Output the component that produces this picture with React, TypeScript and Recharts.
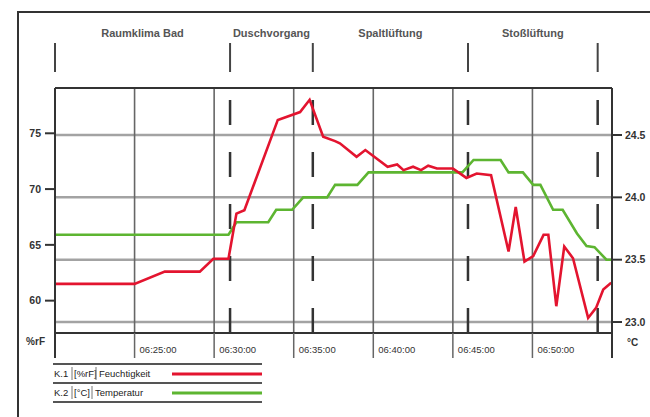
import React from "react";
import {
  LineChart,
  Line,
  XAxis,
  YAxis,
  ReferenceLine,
  ReferenceArea,
  Legend,
} from "recharts";

// minutes after 06:20:00
const humTime = [
  0, 5.0, 6.9, 9.1, 9.95, 10.9, 11.4, 11.9, 14.0, 15.4, 16.0, 16.85, 17.6, 17.9,
  18.95, 19.5, 20.9, 21.5, 21.9, 22.5, 23.0, 23.45, 24.0, 25.0, 25.85, 26.5, 27.4,
  28.5, 28.95, 29.5, 30.05, 30.7, 31.0, 31.5, 32.0, 32.55, 33.5, 34.0, 34.45, 34.95,
];
const humValues = [
  61.5, 61.5, 62.6, 62.6, 63.75, 63.75, 67.8, 68.1, 76.2, 76.9, 78.0, 74.7, 74.3,
  74.1, 72.9, 73.5, 72.0, 72.2, 71.7, 72.0, 71.7, 72.1, 71.85, 71.85, 71.0, 71.4,
  71.25, 64.4, 68.4, 63.5, 64.0, 65.9, 65.9, 59.5, 64.85, 63.8, 58.45, 59.35, 61.0,
  61.6,
];
const tempTime = [
  0, 10.9, 11.4, 13.4, 13.9, 14.9, 15.6, 17.1, 17.6, 19.0, 19.7, 25.6, 26.3, 28.0,
  28.5, 29.4, 30.05, 30.5, 31.3, 31.9, 32.8, 33.4, 33.9, 34.65, 34.95,
];
const tempValues = [
  23.7, 23.7, 23.8, 23.8, 23.9, 23.9, 24.0, 24.0, 24.1, 24.1, 24.2, 24.2, 24.3, 24.3,
  24.2, 24.2, 24.1, 24.1, 23.9, 23.9, 23.71, 23.61, 23.6, 23.5, 23.5,
];

const timeTicks = [0, 5, 10, 15, 20, 25, 30, 35];
const timeLabels = [
  "06:20:00",
  "06:25:00",
  "06:30:00",
  "06:35:00",
  "06:40:00",
  "06:45:00",
  "06:50:00",
  "06:55:00",
];
const humTicks = [60, 65, 70, 75];
const tempTicks = [23.0, 23.5, 24.0, 24.5];
const phaseBounds = [0, 11.0, 16.2, 25.95, 34.1];
const phaseNames = ["Raumklima Bad", "Duschvorgang", "Spaltlüftung", "Stoßlüftung"];

const humData = humTime.map((t, i) => ({ t, hum: humValues[i] }));
const tempData = tempTime.map((t, i) => ({ t, temp: tempValues[i] }));

const FONT = "'Liberation Sans', Arial, sans-serif";

const TimeTick = (props: any) => {
  const { x, y, payload } = props;
  const v = payload.value;
  const edge = v === 0 || v === 35;
  const idx = timeTicks.indexOf(v);
  return (
    <g>
      <line
        x1={x}
        x2={x}
        y1={y}
        y2={y + 25}
        stroke={edge ? "#333" : "#666"}
        strokeWidth={edge ? 2 : 1.5}
      />
      {!edge && (
        <text x={x + 5} y={y + 20} fontSize={9.5} fill="#333" fontFamily={FONT}>
          {timeLabels[idx]}
        </text>
      )}
    </g>
  );
};

// marker above the plot for each phase boundary
const topMarker = (p: any) => {
  const vb = p.viewBox || p;
  return <line x1={vb.x} x2={vb.x} y1={43} y2={72} stroke="#444" strokeWidth={2} />;
};

const phaseLabel = (name: string) => (p: any) => {
  const vb = p.viewBox || p;
  return (
    <text
      x={vb.x + vb.width / 2}
      y={37}
      textAnchor="middle"
      fontSize={11}
      fontWeight="bold"
      fill="#555"
      fontFamily={FONT}
    >
      {name}
    </text>
  );
};

const LegendBox = (props: any) => {
  const items = props.payload || [];
  return (
    <svg width={215} height={44} style={{ display: "block" }}>
      {[2, 21, 40].map((y) => (
        <line key={y} x1={1} x2={210} y1={y} y2={y} stroke="#555" strokeWidth={2} />
      ))}
      {items.map((it: any, i: number) => {
        const [ch, unit, ...rest] = String(it.value).split(" ");
        const base = 2 + i * 19;
        const unitEnd = i === 0 ? 44 : 40;
        return (
          <g key={i} fontFamily={FONT} fontSize={9.5} fill="#222">
            <text x={2} y={base + 13}>{ch}</text>
            <line x1={20} x2={20} y1={base + 3} y2={base + 16} stroke="#777" />
            <text x={22} y={base + 13}>{unit}</text>
            <line x1={unitEnd} x2={unitEnd} y1={base + 3} y2={base + 16} stroke="#777" />
            <text x={unitEnd + 3} y={base + 13}>{rest.join(" ")}</text>
            <line
              x1={120}
              x2={210}
              y1={base + 10}
              y2={base + 10}
              stroke={it.color}
              strokeWidth={3}
            />
          </g>
        );
      })}
    </svg>
  );
};

export default function App() {
  return (
    <div
      style={{
        position: "absolute",
        left: 0,
        top: 0,
        width: 650,
        height: 417,
        background: "#fff",
        overflow: "hidden",
        fontFamily: FONT,
      }}
    >
      <div
        style={{
          position: "absolute",
          left: 17,
          top: 11,
          width: 660,
          height: 420,
          borderLeft: "2px solid #333",
          borderTop: "2px solid #333",
        }}
      />
      <LineChart
        width={650}
        height={417}
        margin={{ top: 86, right: 0, bottom: 54, left: 0 }}
      >
        <XAxis
          xAxisId="top"
          orientation="top"
          type="number"
          dataKey="t"
          domain={[0, 35]}
          allowDataOverflow
          height={2}
          tick={false}
          tickLine={false}
          axisLine={{ stroke: "#333", strokeWidth: 2 }}
        />
        <XAxis
          type="number"
          dataKey="t"
          domain={[0, 35]}
          allowDataOverflow
          ticks={timeTicks}
          interval={0}
          height={30}
          tickSize={0}
          tickMargin={0}
          tickLine={false}
          tick={<TimeTick />}
          axisLine={{ stroke: "#333", strokeWidth: 2 }}
        />
        <YAxis
          yAxisId="hum"
          orientation="left"
          width={55}
          type="number"
          domain={[57.1, 79.06]}
          allowDataOverflow
          ticks={humTicks}
          tickSize={10}
          tickMargin={4}
          tick={{ fontSize: 10.5, fill: "#333", fontWeight: "bold", fontFamily: FONT }}
          tickLine={{ stroke: "#333", strokeWidth: 2 }}
          axisLine={{ stroke: "#333", strokeWidth: 2 }}
          label={(p: any) => {
            const vb = p.viewBox || p;
            return (
              <text
                x={vb.x + vb.width - 10}
                y={vb.y + vb.height + 12}
                textAnchor="end"
                fontSize={10}
                fontWeight="bold"
                fill="#333"
                fontFamily={FONT}
              >
                %rF
              </text>
            );
          }}
        />
        <YAxis
          yAxisId="temp"
          orientation="right"
          width={38}
          type="number"
          domain={[22.912, 24.877]}
          allowDataOverflow
          ticks={tempTicks}
          tickFormatter={(v: number) => v.toFixed(1)}
          tickSize={10}
          tickMargin={3}
          tick={{ fontSize: 10.5, fill: "#333", fontWeight: "bold", fontFamily: FONT }}
          tickLine={{ stroke: "#333", strokeWidth: 2 }}
          axisLine={{ stroke: "#333", strokeWidth: 2 }}
          label={(p: any) => {
            const vb = p.viewBox || p;
            return (
              <text
                x={vb.x + 15}
                y={vb.y + vb.height + 13}
                fontSize={10}
                fontWeight="bold"
                fill="#333"
                fontFamily={FONT}
              >
                °C
              </text>
            );
          }}
        />

        {tempTicks.map((v) => (
          <ReferenceLine
            key={"h" + v}
            yAxisId="temp"
            y={v}
            stroke="#a3a3a3"
            strokeWidth={2.5}
          />
        ))}
        {timeTicks.slice(1, -1).map((v) => (
          <ReferenceLine
            key={"v" + v}
            yAxisId="hum"
            x={v}
            stroke="#666"
            strokeWidth={1.6}
          />
        ))}

        {phaseNames.map((name, i) => (
          <ReferenceArea
            key={name}
            yAxisId="hum"
            x1={phaseBounds[i]}
            x2={phaseBounds[i + 1]}
            fill="none"
            stroke="none"
            label={phaseLabel(name)}
          />
        ))}
        {phaseBounds.map((b, i) => (
          <ReferenceLine
            key={"p" + b}
            yAxisId="hum"
            x={b}
            stroke={i === 0 ? "none" : "#333"}
            strokeWidth={2.5}
            strokeDasharray="25 27"
            label={topMarker}
          />
        ))}

        <Line
          yAxisId="temp"
          data={tempData}
          dataKey="temp"
          name="K.2 [°C] Temperatur"
          type="linear"
          stroke="#5db531"
          strokeWidth={2.6}
          dot={false}
          isAnimationActive={false}
        />
        <Line
          yAxisId="hum"
          data={humData}
          dataKey="hum"
          name="K.1 [%rF] Feuchtigkeit"
          type="linear"
          stroke="#e3142f"
          strokeWidth={2.6}
          dot={false}
          isAnimationActive={false}
        />

        <Legend
          layout="horizontal"
          verticalAlign="middle"
          align="center"
          wrapperStyle={{ left: 52, top: 362, width: 215, height: 44 }}
          content={LegendBox}
        />
      </LineChart>
    </div>
  );
}
